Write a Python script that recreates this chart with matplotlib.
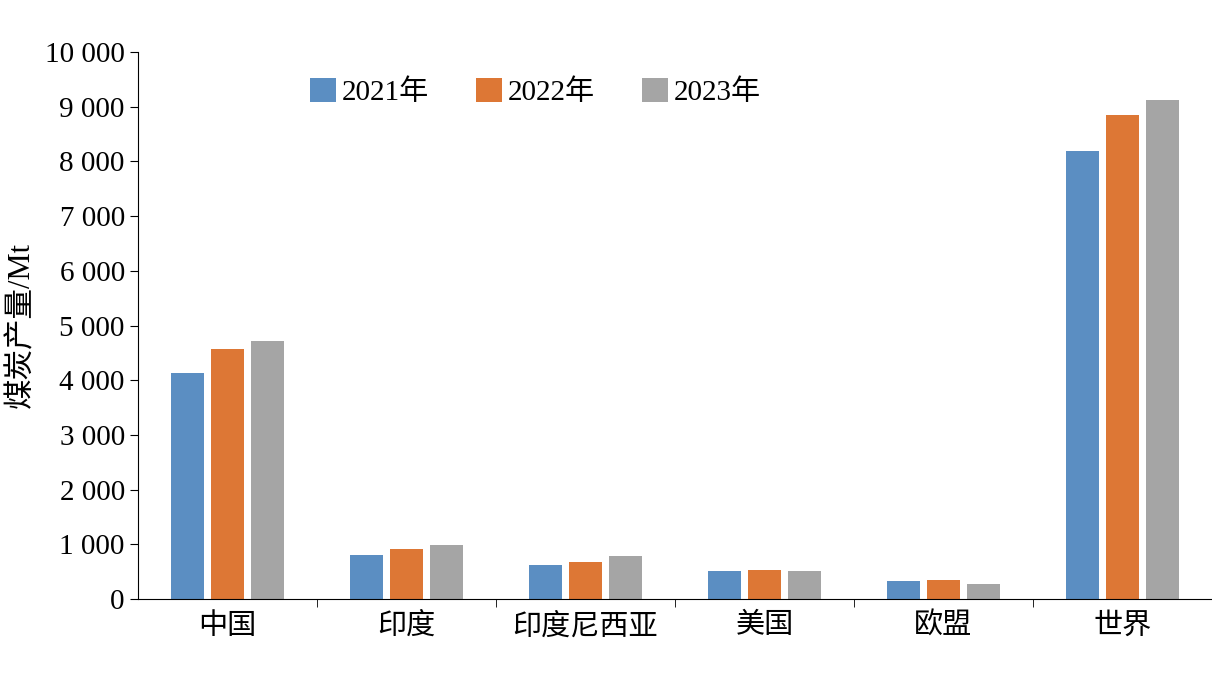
import matplotlib
matplotlib.use("Agg")
import matplotlib.pyplot as plt
import numpy as np
from matplotlib.ticker import FuncFormatter

categories = ["中国", "印度", "印度尼西亚", "美国", "欧盟", "世界"]
series_names = ["2021年", "2022年", "2023年"]
v2021 = [4130, 805, 620, 510, 330, 8190]
v2022 = [4570, 915, 675, 530, 345, 8850]
v2023 = [4715, 985, 785, 510, 275, 9120]
colors = ["#5B8EC2", "#DD7735", "#A5A5A5"]

plt.rcParams['font.family'] = ['Liberation Serif', 'Noto Sans CJK SC']
fig = plt.figure(figsize=(12.12, 6.76), dpi=100)
ax = fig.add_axes([138/1212, 1-599/676, 1-138/1212, (599-52)/676])
x = np.arange(len(categories))
w = 0.18
for i, (vals, name) in enumerate(zip([v2021, v2022, v2023], series_names)):
    ax.bar(x + (i-1)*0.223, vals, w, color=colors[i], label=name)
ax.set_xlim(-0.5, 5.5)
ax.set_ylim(0, 10000)
ax.set_yticks(np.arange(0, 10001, 1000))
ax.yaxis.set_major_formatter(FuncFormatter(lambda v, p: f"{int(v):,}".replace(",", " ")))
ax.set_xticks(x)
ax.set_xticklabels(categories)
ax.set_xticks(np.arange(0.5, 5.5, 1), minor=True)
ax.tick_params(axis='x', which='major', length=0, labelsize=21, pad=10)
ax.tick_params(axis='x', which='minor', length=6, direction='out')
ax.tick_params(axis='y', labelsize=21, length=6, direction='out')
for s in ['top', 'right']:
    ax.spines[s].set_visible(False)
ax.set_ylabel("煤炭产量/Mt", fontsize=22, labelpad=6)
ax.legend(loc='upper center', bbox_to_anchor=(0.37, 1.0), ncol=3, frameon=False,
          fontsize=21, handlelength=0.9, handleheight=0.9, columnspacing=1.6, handletextpad=0.2)
fig.savefig("out.png", dpi=100)
